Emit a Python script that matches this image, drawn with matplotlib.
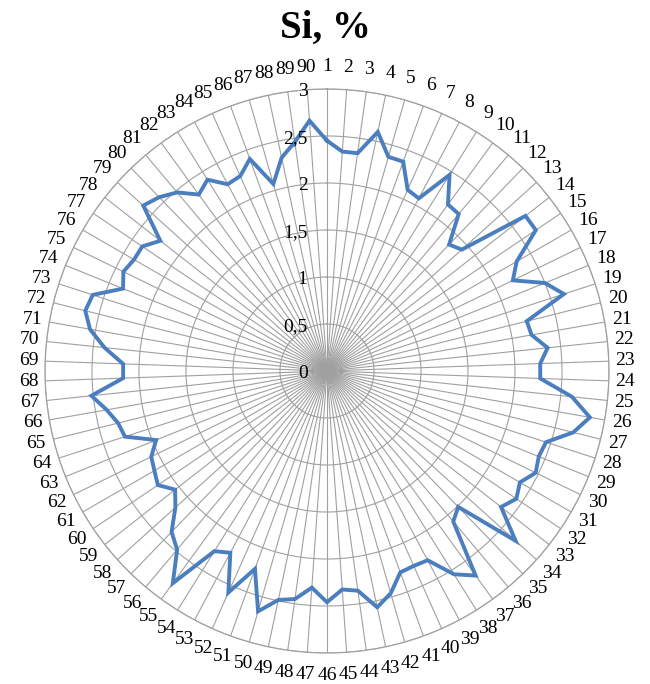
import numpy as np
import matplotlib
matplotlib.use("Agg")
import matplotlib.pyplot as plt
from matplotlib.transforms import offset_copy

# Si content per sample, samples 1..90
samples = [str(i) for i in range(1, 91)]
si = [2.45, 2.34, 2.34, 2.60, 2.37, 2.37, 2.11, 2.08, 2.46, 2.19,
      2.18, 1.87, 1.93, 2.68, 2.68, 2.33, 2.20, 2.50, 2.65, 2.19,
      2.21, 2.36, 2.27, 2.27, 2.62, 2.84, 2.70, 2.45, 2.43, 2.47,
      2.37, 2.43, 2.35, 2.70, 2.01, 2.09, 2.69, 2.55, 2.28, 2.27,
      2.28, 2.46, 2.57, 2.36, 2.33, 2.46, 2.31, 2.45, 2.49, 2.66,
      2.24, 2.58, 2.19, 2.26, 2.79, 2.48, 2.38, 2.17, 2.05, 2.17,
      2.12, 2.08, 1.96, 2.26, 2.29, 2.38, 2.52, 2.17, 2.17, 2.38,
      2.56, 2.65, 2.62, 2.34, 2.41, 2.37, 2.37, 2.25, 2.63, 2.57,
      2.48, 2.32, 2.40, 2.25, 2.27, 2.40, 2.07, 2.32, 2.46, 2.67]
r_ticks = [0, 0.5, 1, 1.5, 2, 2.5, 3]
r_labels = ["0", "0,5", "1", "1,5", "2", "2,5", "3"]


def main():
    plt.rcParams["font.family"] = ["Liberation Serif", "DejaVu Serif"]
    grid_col = "#a0a0a0"

    fig = plt.figure(figsize=(6.5, 6.84), dpi=100)
    ax = fig.add_axes([0.0692, 0.0453, 0.8677, 0.8246], projection="polar")
    ax.set_theta_zero_location("N")
    ax.set_theta_direction(-1)

    theta = np.arange(len(si)) * 2 * np.pi / len(si)
    ax.plot(np.append(theta, theta[0]), si + si[:1], color="#4a7ebf", lw=2.8,
            solid_joinstyle="miter", zorder=3)

    ax.set_ylim(0, 3)
    ax.set_xticks(theta)
    ax.set_xticklabels([])
    ax.set_yticks(r_ticks[1:])
    ax.set_yticklabels([])
    ax.grid(True, color=grid_col, lw=0.8)
    ax.spines["polar"].set_color(grid_col)
    ax.spines["polar"].set_linewidth(0.9)
    ax.tick_params(length=0)

    # category labels around the rim
    for t, lab in zip(theta, samples):
        rr = 3.17 + 0.07 * abs(np.cos(t))
        ax.text(t, rr, lab, ha="center", va="center", fontsize=14,
                clip_on=False)

    # value labels just left of the first spoke
    shift = offset_copy(ax.transData, fig=fig, x=-14, y=-2, units="points")
    for v, lab in zip(r_ticks, r_labels):
        ax.text(0, v, lab, transform=shift, ha="right", va="center",
                fontsize=14)

    fig.text(0.5, 0.958, "Si, %", ha="center", va="center", fontsize=28,
             fontweight="bold")
    fig.savefig("out.png", dpi=100)


if __name__ == "__main__":
    main()
